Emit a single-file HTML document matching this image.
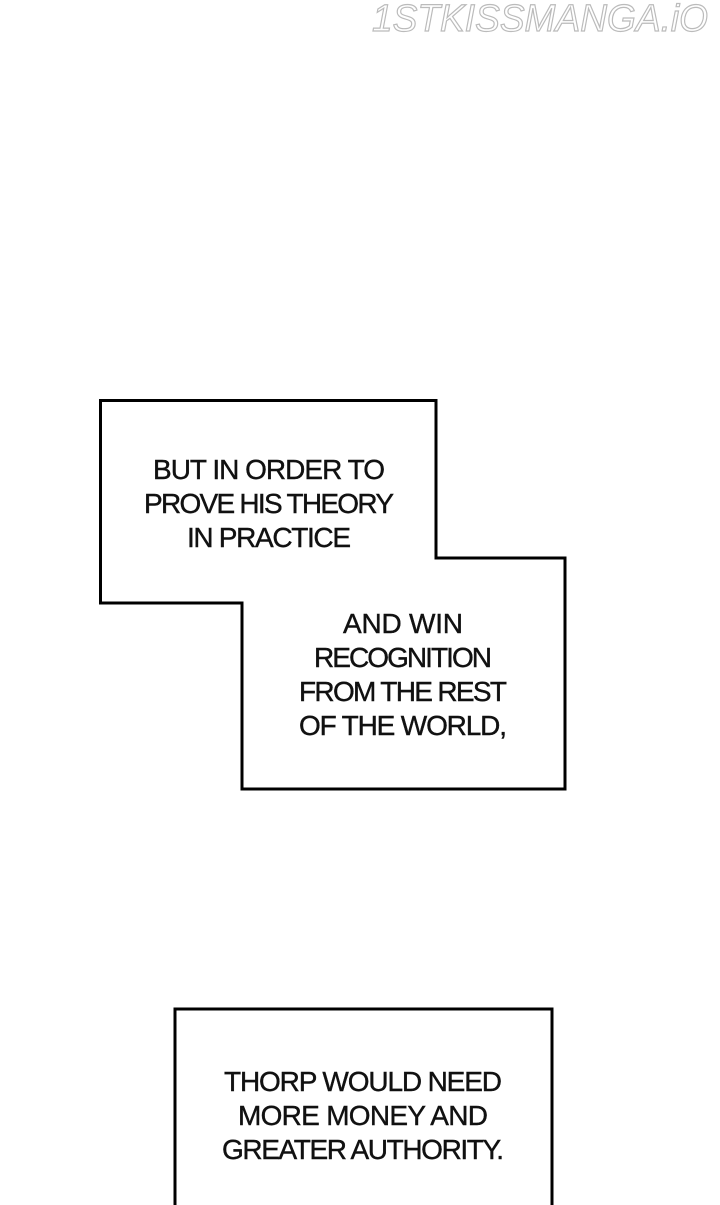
<html><head><style>body{margin:0;background:#fff;width:720px;height:1205px;overflow:hidden}</style></head><body>
<svg width="720" height="1205" xmlns="http://www.w3.org/2000/svg" style="display:block">
<text x="372" y="31" font-family="Liberation Sans, sans-serif" font-style="italic" font-size="38" fill="#fff" stroke="#bbb" stroke-width="1.2" textLength="336" lengthAdjust="spacingAndGlyphs">1STKISSMANGA.iO</text>
<polygon points="100.5,400.5 436,400.5 436,558 565,558 565,789 242,789 242,603 100.5,603" fill="#fff" stroke="#000" stroke-width="3"/>
<rect x="175" y="1009" width="377" height="220" fill="#fff" stroke="#000" stroke-width="3"/>
<g font-family="Liberation Sans, sans-serif" font-size="28" fill="#111" stroke="#111" stroke-width="0.4" text-anchor="middle" lengthAdjust="spacingAndGlyphs">
<text x="269" y="479" textLength="232">BUT IN ORDER TO</text>
<text x="269" y="513" textLength="250">PROVE HIS THEORY</text>
<text x="269" y="547" textLength="164">IN PRACTICE</text>
<text x="403" y="633" textLength="120">AND WIN</text>
<text x="403" y="667" textLength="178">RECOGNITION</text>
<text x="403" y="701" textLength="208">FROM THE REST</text>
<text x="403" y="735" textLength="208">OF THE WORLD,</text>
<text x="363" y="1091" textLength="278">THORP WOULD NEED</text>
<text x="363" y="1125" textLength="250">MORE MONEY AND</text>
<text x="363" y="1159" textLength="282">GREATER AUTHORITY.</text>
</g>
</svg>
</body></html>
